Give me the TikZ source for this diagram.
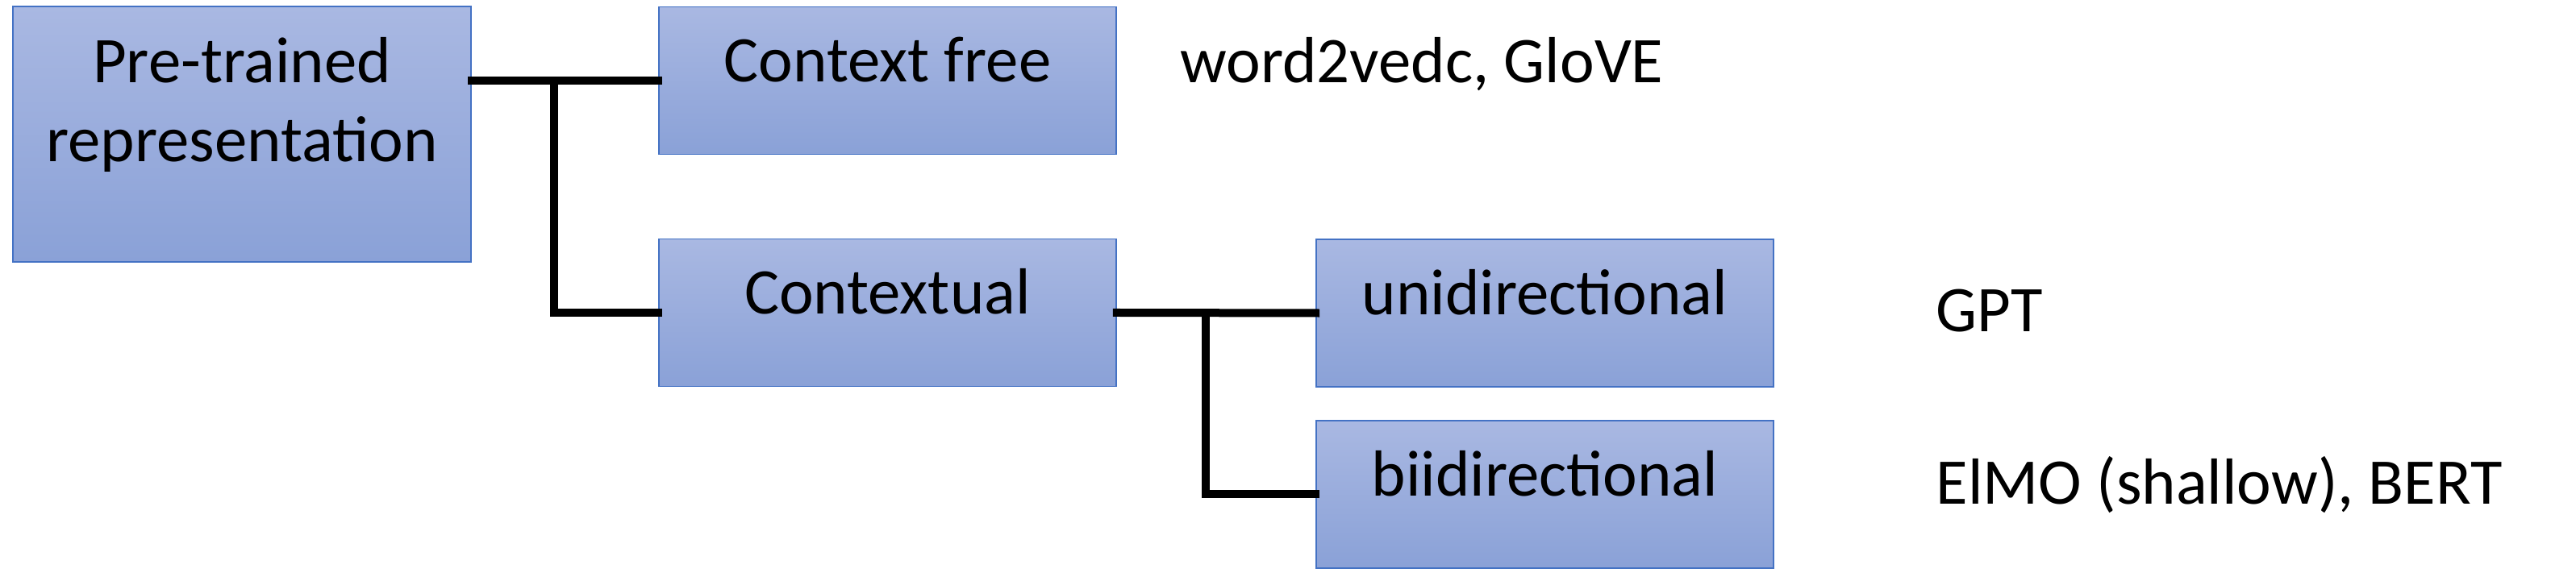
\documentclass[tikz,border=0pt]{standalone}
\usepackage{fontspec}
\setmainfont{Carlito}
\definecolor{boxtop}{HTML}{A9B8E2}
\definecolor{boxbot}{HTML}{8AA1D7}
\definecolor{boxline}{HTML}{4472C4}
\begin{document}
\begin{tikzpicture}[line join=miter,font=\fontsize{23}{27.9}\selectfont,
	hop/.style={draw=boxline,line width=0.5pt,top color=boxtop,bottom color=boxbot,inner sep=0pt,
		minimum width=5.67cm,minimum height=1.83cm,text height=0.64cm,text depth=0.60cm},
	nhanh/.style={line width=0.1cm,line cap=rect},
	ten/.style={anchor=base west,inner sep=0pt}]
			\useasboundingbox (0,0) rectangle (31.94,7.16);
			%Cac hop
			\node[hop,minimum width=5.68cm,minimum height=3.17cm,text height=1.64cm,text depth=0.95cm,align=center] (pre) at (3.00,5.495) {Pre-trained\\representation};
			\node[hop] (free) at (11.005,6.16) {Context free};
			\node[hop] (ctx) at (11.005,3.28) {Contextual};
			\node[hop] (uni) at (19.155,3.275) {unidirectional};
			\node[hop] (bi) at (19.155,1.025) {biidirectional};
			%Vi du
			\node[ten] (lblfree) at (14.63,6.13) {word2vedc, GloVE};
			\node[ten] (lbluni) at (24.00,3.04) {GPT};
			\node[ten] (lblbi) at (24.00,0.90) {ElMO (shallow), BERT};
			%Nhanh
			\path (6.87,0) coordinate (J1)
			(14.95,0) coordinate (J2);
			\draw[nhanh] (pre.east |- free) -- (free.west);
			\draw[nhanh] (J1 |- free) |- (ctx.west);
			\draw[nhanh] (ctx.east) -- (uni.west);
			\draw[nhanh] (J2 |- uni) |- (bi.west);
		\end{tikzpicture}
\end{document}
